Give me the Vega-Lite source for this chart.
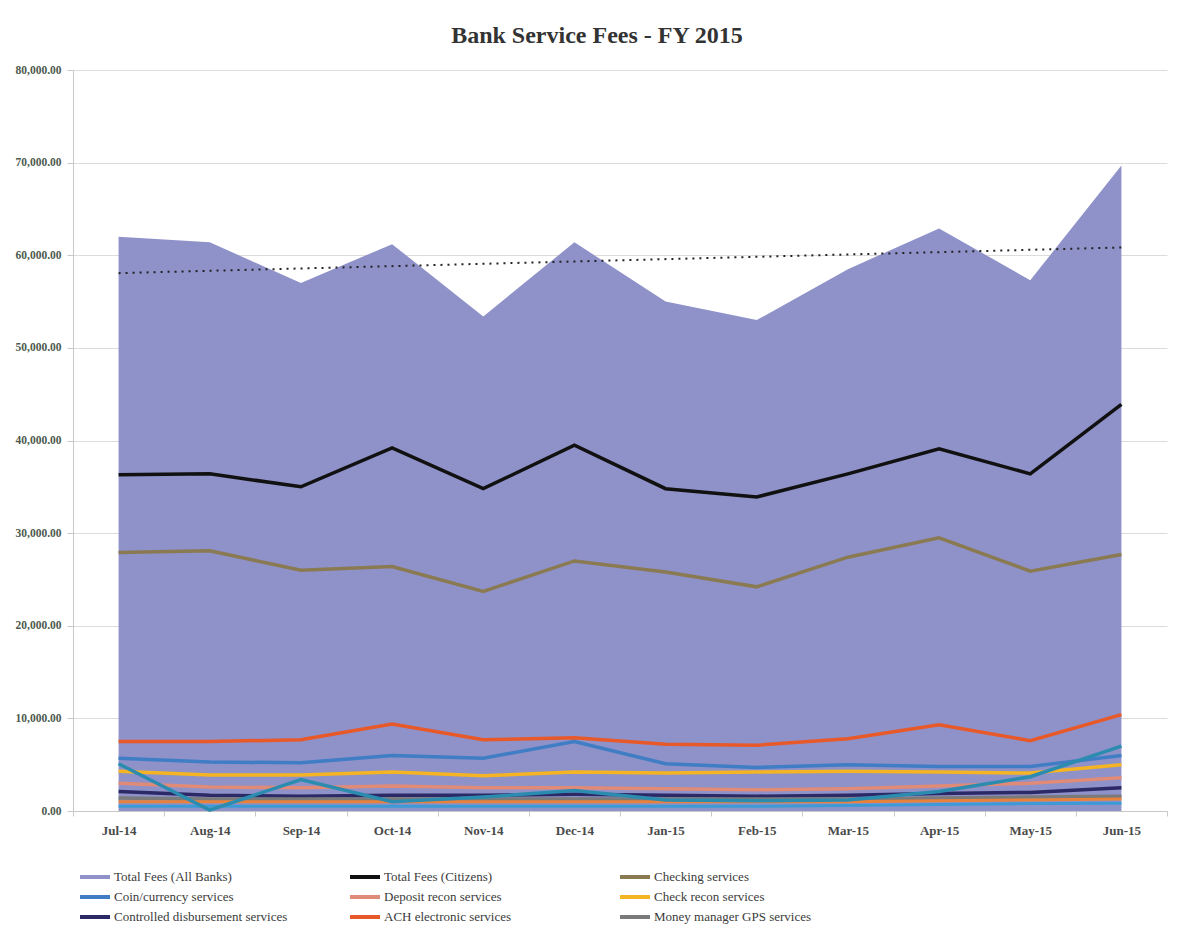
{
  "$schema": "https://vega.github.io/schema/vega-lite/v6.json",
  "width": 1094,
  "height": 741,
  "autosize": "none",
  "padding": {"left": 73, "top": 70, "right": 12, "bottom": 121},
  "background": "white",
  "title": {
    "text": "Bank Service Fees - FY 2015",
    "font": "Liberation Serif",
    "fontSize": 24,
    "fontWeight": "bold",
    "color": "#333333",
    "anchor": "middle",
    "dx": -23,
    "offset": 16
  },
  "config": {
    "view": {"stroke": null},
    "legend": {"clipHeight": 16}
  },
  "data": {"values": [
    {"month": "Jul-14", "series": "Total Fees (All Banks)", "fees": 62000},
    {"month": "Aug-14", "series": "Total Fees (All Banks)", "fees": 61400},
    {"month": "Sep-14", "series": "Total Fees (All Banks)", "fees": 57000},
    {"month": "Oct-14", "series": "Total Fees (All Banks)", "fees": 61200},
    {"month": "Nov-14", "series": "Total Fees (All Banks)", "fees": 53400},
    {"month": "Dec-14", "series": "Total Fees (All Banks)", "fees": 61400},
    {"month": "Jan-15", "series": "Total Fees (All Banks)", "fees": 55000},
    {"month": "Feb-15", "series": "Total Fees (All Banks)", "fees": 53000},
    {"month": "Mar-15", "series": "Total Fees (All Banks)", "fees": 58500},
    {"month": "Apr-15", "series": "Total Fees (All Banks)", "fees": 62900},
    {"month": "May-15", "series": "Total Fees (All Banks)", "fees": 57300},
    {"month": "Jun-15", "series": "Total Fees (All Banks)", "fees": 69700},
    {"month": "Jul-14", "series": "Total Fees (Citizens)", "fees": 36300},
    {"month": "Aug-14", "series": "Total Fees (Citizens)", "fees": 36400},
    {"month": "Sep-14", "series": "Total Fees (Citizens)", "fees": 35000},
    {"month": "Oct-14", "series": "Total Fees (Citizens)", "fees": 39200},
    {"month": "Nov-14", "series": "Total Fees (Citizens)", "fees": 34800},
    {"month": "Dec-14", "series": "Total Fees (Citizens)", "fees": 39500},
    {"month": "Jan-15", "series": "Total Fees (Citizens)", "fees": 34800},
    {"month": "Feb-15", "series": "Total Fees (Citizens)", "fees": 33900},
    {"month": "Mar-15", "series": "Total Fees (Citizens)", "fees": 36400},
    {"month": "Apr-15", "series": "Total Fees (Citizens)", "fees": 39100},
    {"month": "May-15", "series": "Total Fees (Citizens)", "fees": 36400},
    {"month": "Jun-15", "series": "Total Fees (Citizens)", "fees": 43900},
    {"month": "Jul-14", "series": "Checking services", "fees": 27900},
    {"month": "Aug-14", "series": "Checking services", "fees": 28100},
    {"month": "Sep-14", "series": "Checking services", "fees": 26000},
    {"month": "Oct-14", "series": "Checking services", "fees": 26400},
    {"month": "Nov-14", "series": "Checking services", "fees": 23700},
    {"month": "Dec-14", "series": "Checking services", "fees": 27000},
    {"month": "Jan-15", "series": "Checking services", "fees": 25800},
    {"month": "Feb-15", "series": "Checking services", "fees": 24200},
    {"month": "Mar-15", "series": "Checking services", "fees": 27400},
    {"month": "Apr-15", "series": "Checking services", "fees": 29500},
    {"month": "May-15", "series": "Checking services", "fees": 25900},
    {"month": "Jun-15", "series": "Checking services", "fees": 27700},
    {"month": "Jul-14", "series": "Coin/currency services", "fees": 5700},
    {"month": "Aug-14", "series": "Coin/currency services", "fees": 5300},
    {"month": "Sep-14", "series": "Coin/currency services", "fees": 5200},
    {"month": "Oct-14", "series": "Coin/currency services", "fees": 6000},
    {"month": "Nov-14", "series": "Coin/currency services", "fees": 5700},
    {"month": "Dec-14", "series": "Coin/currency services", "fees": 7500},
    {"month": "Jan-15", "series": "Coin/currency services", "fees": 5100},
    {"month": "Feb-15", "series": "Coin/currency services", "fees": 4700},
    {"month": "Mar-15", "series": "Coin/currency services", "fees": 5000},
    {"month": "Apr-15", "series": "Coin/currency services", "fees": 4800},
    {"month": "May-15", "series": "Coin/currency services", "fees": 4800},
    {"month": "Jun-15", "series": "Coin/currency services", "fees": 6000},
    {"month": "Jul-14", "series": "Deposit recon services", "fees": 3000},
    {"month": "Aug-14", "series": "Deposit recon services", "fees": 2600},
    {"month": "Sep-14", "series": "Deposit recon services", "fees": 2500},
    {"month": "Oct-14", "series": "Deposit recon services", "fees": 2700},
    {"month": "Nov-14", "series": "Deposit recon services", "fees": 2500},
    {"month": "Dec-14", "series": "Deposit recon services", "fees": 2500},
    {"month": "Jan-15", "series": "Deposit recon services", "fees": 2400},
    {"month": "Feb-15", "series": "Deposit recon services", "fees": 2300},
    {"month": "Mar-15", "series": "Deposit recon services", "fees": 2400},
    {"month": "Apr-15", "series": "Deposit recon services", "fees": 2700},
    {"month": "May-15", "series": "Deposit recon services", "fees": 3000},
    {"month": "Jun-15", "series": "Deposit recon services", "fees": 3600},
    {"month": "Jul-14", "series": "Check recon services", "fees": 4300},
    {"month": "Aug-14", "series": "Check recon services", "fees": 3900},
    {"month": "Sep-14", "series": "Check recon services", "fees": 3900},
    {"month": "Oct-14", "series": "Check recon services", "fees": 4200},
    {"month": "Nov-14", "series": "Check recon services", "fees": 3800},
    {"month": "Dec-14", "series": "Check recon services", "fees": 4200},
    {"month": "Jan-15", "series": "Check recon services", "fees": 4100},
    {"month": "Feb-15", "series": "Check recon services", "fees": 4200},
    {"month": "Mar-15", "series": "Check recon services", "fees": 4300},
    {"month": "Apr-15", "series": "Check recon services", "fees": 4200},
    {"month": "May-15", "series": "Check recon services", "fees": 4100},
    {"month": "Jun-15", "series": "Check recon services", "fees": 5000},
    {"month": "Jul-14", "series": "Controlled disbursement services", "fees": 2100},
    {"month": "Aug-14", "series": "Controlled disbursement services", "fees": 1700},
    {"month": "Sep-14", "series": "Controlled disbursement services", "fees": 1600},
    {"month": "Oct-14", "series": "Controlled disbursement services", "fees": 1700},
    {"month": "Nov-14", "series": "Controlled disbursement services", "fees": 1700},
    {"month": "Dec-14", "series": "Controlled disbursement services", "fees": 1800},
    {"month": "Jan-15", "series": "Controlled disbursement services", "fees": 1700},
    {"month": "Feb-15", "series": "Controlled disbursement services", "fees": 1600},
    {"month": "Mar-15", "series": "Controlled disbursement services", "fees": 1700},
    {"month": "Apr-15", "series": "Controlled disbursement services", "fees": 1900},
    {"month": "May-15", "series": "Controlled disbursement services", "fees": 2000},
    {"month": "Jun-15", "series": "Controlled disbursement services", "fees": 2500},
    {"month": "Jul-14", "series": "ACH electronic services", "fees": 7500},
    {"month": "Aug-14", "series": "ACH electronic services", "fees": 7500},
    {"month": "Sep-14", "series": "ACH electronic services", "fees": 7700},
    {"month": "Oct-14", "series": "ACH electronic services", "fees": 9400},
    {"month": "Nov-14", "series": "ACH electronic services", "fees": 7700},
    {"month": "Dec-14", "series": "ACH electronic services", "fees": 7900},
    {"month": "Jan-15", "series": "ACH electronic services", "fees": 7200},
    {"month": "Feb-15", "series": "ACH electronic services", "fees": 7100},
    {"month": "Mar-15", "series": "ACH electronic services", "fees": 7800},
    {"month": "Apr-15", "series": "ACH electronic services", "fees": 9300},
    {"month": "May-15", "series": "ACH electronic services", "fees": 7600},
    {"month": "Jun-15", "series": "ACH electronic services", "fees": 10400},
    {"month": "Jul-14", "series": "Money manager GPS services", "fees": 1400},
    {"month": "Aug-14", "series": "Money manager GPS services", "fees": 1300},
    {"month": "Sep-14", "series": "Money manager GPS services", "fees": 1300},
    {"month": "Oct-14", "series": "Money manager GPS services", "fees": 1300},
    {"month": "Nov-14", "series": "Money manager GPS services", "fees": 1300},
    {"month": "Dec-14", "series": "Money manager GPS services", "fees": 1300},
    {"month": "Jan-15", "series": "Money manager GPS services", "fees": 1300},
    {"month": "Feb-15", "series": "Money manager GPS services", "fees": 1300},
    {"month": "Mar-15", "series": "Money manager GPS services", "fees": 1300},
    {"month": "Apr-15", "series": "Money manager GPS services", "fees": 1400},
    {"month": "May-15", "series": "Money manager GPS services", "fees": 1500},
    {"month": "Jun-15", "series": "Money manager GPS services", "fees": 1600},
    {"month": "Jul-14", "series": "extra teal", "fees": 5100},
    {"month": "Aug-14", "series": "extra teal", "fees": 100},
    {"month": "Sep-14", "series": "extra teal", "fees": 3400},
    {"month": "Oct-14", "series": "extra teal", "fees": 1000},
    {"month": "Nov-14", "series": "extra teal", "fees": 1500},
    {"month": "Dec-14", "series": "extra teal", "fees": 2200},
    {"month": "Jan-15", "series": "extra teal", "fees": 1200},
    {"month": "Feb-15", "series": "extra teal", "fees": 1100},
    {"month": "Mar-15", "series": "extra teal", "fees": 1200},
    {"month": "Apr-15", "series": "extra teal", "fees": 2100},
    {"month": "May-15", "series": "extra teal", "fees": 3700},
    {"month": "Jun-15", "series": "extra teal", "fees": 7000},
    {"month": "Jul-14", "series": "extra orange", "fees": 1000},
    {"month": "Aug-14", "series": "extra orange", "fees": 1000},
    {"month": "Sep-14", "series": "extra orange", "fees": 1000},
    {"month": "Oct-14", "series": "extra orange", "fees": 1000},
    {"month": "Nov-14", "series": "extra orange", "fees": 1000},
    {"month": "Dec-14", "series": "extra orange", "fees": 1000},
    {"month": "Jan-15", "series": "extra orange", "fees": 1000},
    {"month": "Feb-15", "series": "extra orange", "fees": 1000},
    {"month": "Mar-15", "series": "extra orange", "fees": 1000},
    {"month": "Apr-15", "series": "extra orange", "fees": 1100},
    {"month": "May-15", "series": "extra orange", "fees": 1200},
    {"month": "Jun-15", "series": "extra orange", "fees": 1300},
    {"month": "Jul-14", "series": "extra blue", "fees": 500},
    {"month": "Aug-14", "series": "extra blue", "fees": 500},
    {"month": "Sep-14", "series": "extra blue", "fees": 500},
    {"month": "Oct-14", "series": "extra blue", "fees": 500},
    {"month": "Nov-14", "series": "extra blue", "fees": 500},
    {"month": "Dec-14", "series": "extra blue", "fees": 500},
    {"month": "Jan-15", "series": "extra blue", "fees": 500},
    {"month": "Feb-15", "series": "extra blue", "fees": 500},
    {"month": "Mar-15", "series": "extra blue", "fees": 600},
    {"month": "Apr-15", "series": "extra blue", "fees": 700},
    {"month": "May-15", "series": "extra blue", "fees": 800},
    {"month": "Jun-15", "series": "extra blue", "fees": 850},
    {"month": "Jul-14", "series": "trend", "fees": 58070},
    {"month": "Jun-15", "series": "trend", "fees": 60840}
  ]},
  "encoding": {
    "x": {
      "field": "month",
      "type": "ordinal",
      "sort": ["Jul-14","Aug-14","Sep-14","Oct-14","Nov-14","Dec-14","Jan-15","Feb-15","Mar-15","Apr-15","May-15","Jun-15"],
      "scale": {"type": "band", "paddingInner": 0, "paddingOuter": 0},
      "bandPosition": 0.5,
      "axis": {
        "title": null,
        "labelAngle": 0,
        "labelFont": "Liberation Serif",
        "labelFontSize": 13,
        "labelFontWeight": "bold",
        "labelColor": "#4a4a4a",
        "labelPadding": 8,
        "tickBand": "extent",
        "tickSize": 5,
        "tickColor": "#c8c8c8",
        "domainColor": "#c8c8c8",
        "grid": false
      }
    },
    "y": {
      "field": "fees",
      "type": "quantitative",
      "scale": {"domain": [0, 80000], "nice": false},
      "axis": {
        "title": null,
        "values": [0, 10000, 20000, 30000, 40000, 50000, 60000, 70000, 80000],
        "format": ",.2f",
        "labelFont": "Liberation Serif",
        "labelFontSize": 11.5,
        "labelFontWeight": "bold",
        "labelColor": "#4d5a4d",
        "labelPadding": 6,
        "tickSize": 6,
        "tickColor": "#c8c8c8",
        "domainColor": "#c8c8c8",
        "grid": true,
        "gridColor": "#dcdcdc"
      }
    }
  },
  "layer": [
    {
      "transform": [{"filter": "datum.series === 'Total Fees (All Banks)'"}],
      "mark": {"type": "area", "opacity": 1},
      "encoding": {
        "color": {
          "field": "series",
          "type": "nominal",
          "scale": {
            "domain": ["Total Fees (All Banks)", "Total Fees (Citizens)", "Checking services", "Coin/currency services", "Deposit recon services", "Check recon services", "Controlled disbursement services", "ACH electronic services", "Money manager GPS services"],
            "range": ["#8F91C9", "#111111", "#8A7A52", "#3F7DC4", "#E08A78", "#F4B423", "#2B2966", "#E8592A", "#7A7A7A"]
          },
          "legend": {
            "title": null,
            "orient": "none",
            "direction": "horizontal",
            "legendX": 5,
            "legendY": 799,
            "columns": 3,
            "gridAlign": "all",
            "columnPadding": 60,
            "rowPadding": 4,
            "symbolType": "stroke",
            "symbolSize": 900,
            "symbolStrokeWidth": 4,
            "labelFont": "Liberation Serif",
            "labelFontSize": 13,
            "labelColor": "#3a3a3a",
            "labelOffset": 2,
            "labelLimit": 300
          }
        }
      }
    },
    {
      "transform": [{"filter": "datum.series !== 'Total Fees (All Banks)' && indexof(['extra teal','extra orange','extra blue','trend'], datum.series) < 0"}],
      "mark": {"type": "line", "strokeWidth": 3.5},
      "encoding": {
        "color": {"field": "series", "type": "nominal"}
      }
    },
    {
      "transform": [{"filter": "datum.series === 'extra orange'"}],
      "mark": {"type": "line", "strokeWidth": 3, "color": "#E8823A"},
      "encoding": {}
    },
    {
      "transform": [{"filter": "datum.series === 'extra blue'"}],
      "mark": {"type": "line", "strokeWidth": 3, "color": "#3C9AD6"},
      "encoding": {}
    },
    {
      "transform": [{"filter": "datum.series === 'extra teal'"}],
      "mark": {"type": "line", "strokeWidth": 3.5, "color": "#2C8CB0"},
      "encoding": {}
    },
    {
      "transform": [{"filter": "datum.series === 'trend'"}],
      "mark": {"type": "line", "strokeWidth": 2, "color": "#222222", "strokeDash": [2, 5]},
      "encoding": {}
    }
  ]
}
